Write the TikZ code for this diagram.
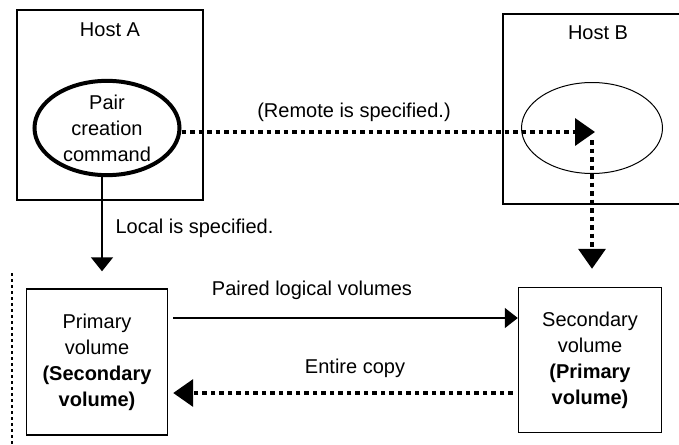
\documentclass[tikz,border=0pt]{standalone}
\usepackage{fontspec}
\setmainfont{Liberation Sans}
\usetikzlibrary{arrows.meta,shapes.geometric}

\begin{document}
\begin{tikzpicture}[x=1pt,y=-1pt,font=\fontsize{20}{26}\selectfont,
    hostbox/.style={draw,line width=1.4pt,minimum width=186pt,minimum height=190pt},
    volbox/.style={draw,line width=1.4pt,minimum width=141pt,minimum height=146pt,align=center},
    bigdots/.style={line width=3.6pt,dash pattern=on 4.5pt off 4pt},
    bigtip/.style={-{Triangle[length=20pt,width=27pt]}},
    smalltip/.style={-{Triangle[length=14pt,width=22pt]}}]
    \useasboundingbox (0,0) rectangle (679,444);

    % hosts
    \node[hostbox] (hostA) at (110,105) {};
    \node (hostAname) at (110,30) {Host A};
    \node[hostbox,minimum width=182pt] (hostB) at (594,109) {};
    \node (hostBname) at (598,33) {Host B};

    \node[ellipse,draw,line width=4pt,minimum width=145pt,minimum height=93pt,align=center,inner sep=0pt] (cmd) at (107,128) {Pair\\creation\\command};
    \node[ellipse,draw,line width=1pt,minimum width=141pt,minimum height=91pt] (target) at (592,128) {};

    % remote
    \coordinate (remotetip) at (595,132);
    \coordinate (remotedown) at (592,140);
    \draw[bigdots,bigtip] (cmd.east |- remotetip) -- (remotetip);
    \node (remotelabel) at (354,112) {(Remote is specified.)};

    % volumes
    \node[volbox] (privol) at (97,362) {Primary\\volume\\{\bfseries (Secondary}\\{\bfseries volume)}};
    \node[volbox,minimum width=143pt,minimum height=145pt] (secvol) at (590,360) {Secondary\\volume\\{\bfseries (Primary}\\{\bfseries volume)}};

    \draw[line width=1.4pt,smalltip,shorten >=17pt] ([xshift=-5pt]cmd.south) -- ([xshift=-5pt]cmd.south |- privol.north);
    \node[anchor=west] (locallabel) at (112,228) {Local is specified.};
    \draw[bigdots,bigtip,shorten >=18pt] (remotedown) -- (remotedown |- secvol.north);

    \draw[line width=1.4pt,-{Triangle[length=13pt,width=20pt]},shorten <=5pt] ([yshift=44pt]privol.east) -- ([yshift=44pt]privol.east -| secvol.west);
    \node (pairlabel) at (312,290) {Paired logical volumes};

    \draw[bigdots,bigtip,shorten <=5pt,shorten >=5pt] ([yshift=-33pt]secvol.west) -- ([yshift=-33pt]secvol.west -| privol.east);
    \node (copylabel) at (355,368) {Entire copy};

    \coordinate (edgetop) at (12,273);
    \coordinate (edgebot) at (12,446);
    \draw[line width=1.5pt,dash pattern=on 3pt off 3pt] (edgetop) -- (edgebot);
\end{tikzpicture}
\end{document}
